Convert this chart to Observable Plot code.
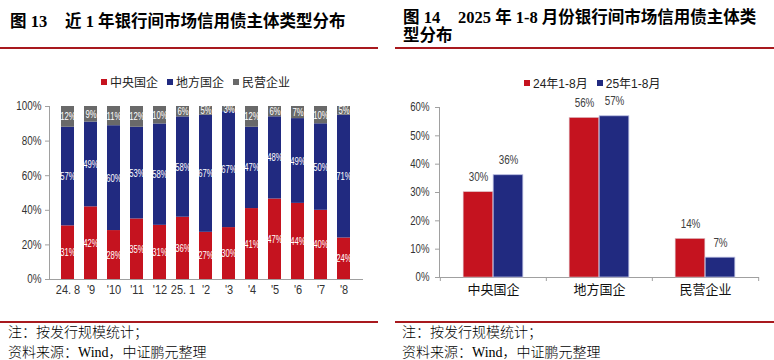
<!DOCTYPE html>
<html>
<head>
<meta charset="utf-8">
<script src="https://cdn.jsdelivr.net/npm/d3@7"></script>
<script src="https://cdn.jsdelivr.net/npm/@observablehq/plot@0.6"></script>
<style>
  html, body { margin: 0; padding: 0; background: #fff; }
  #page { position: relative; width: 774px; height: 360px; overflow: hidden; background: #fff; }
  .abs { position: absolute; white-space: nowrap; }
  .title { font-family: "Liberation Serif", "Noto Sans CJK SC", serif; font-weight: bold; font-size: 16.5px; color: #000; line-height: 18px; }
  .rule { position: absolute; height: 1.5px; background: #A8191E; }
  .foot { font-family: "Liberation Serif", "Noto Sans CJK SC", serif; font-size: 14px; font-weight: 300; color: #000; line-height: 19px; }
  .legend { font-family: "Liberation Sans", "Noto Sans CJK SC", sans-serif; font-size: 12px; color: #222; display: flex; align-items: center; }
  .legend .sw { width: 6px; height: 6px; display: inline-block; margin-right: 3px; }
  .legend .it { display: flex; align-items: center; margin-right: 9px; }
  svg g[aria-label$="tick label"] { fill: #333; }
</style>
</head>
<body>
<div id="page">
  <!-- left panel -->
  <div class="abs title" style="left:10px; top:13px;">图 13</div>
  <div class="abs title" style="left:65px; top:13px;">近 1 年银行间市场信用债主体类型分布</div>
  <div class="rule" style="left:0px; top:47px; width:378px;"></div>
  <div class="abs legend" id="legL" style="left:101px; top:73px;"></div>
  <div class="abs" id="chartL" style="left:0px; top:90px;"></div>
  <div class="rule" style="left:0px; top:321px; width:378px;"></div>
  <div class="abs foot" style="left:8px; top:323px;">注：按发行规模统计；</div>
  <div class="abs foot" style="left:8px; top:343px;">资料来源：Wind，中证鹏元整理</div>

  <!-- right panel -->
  <div class="abs title" style="left:403px; top:9px;">图 14</div>
  <div class="abs title" style="left:458px; top:9px;">2025 年 1-8 月份银行间市场信用债主体类</div>
  <div class="abs title" style="left:403px; top:27px;">型分布</div>
  <div class="rule" style="left:395px; top:47px; width:379px;"></div>
  <div class="abs legend" id="legR" style="left:524px; top:74px;"></div>
  <div class="abs" id="chartR" style="left:390px; top:90px;"></div>
  <div class="rule" style="left:395px; top:321px; width:379px;"></div>
  <div class="abs foot" style="left:402px; top:323px;">注：按发行规模统计；</div>
  <div class="abs foot" style="left:402px; top:343px;">资料来源：Wind，中证鹏元整理</div>
</div>
<script>
// ---------- data: left chart (share of issuance by issuer type, %) ----------
const months = ["24. 8", "'9", "'10", "'11", "'12", "25. 1", "'2", "'3", "'4", "'5", "'6", "'7", "'8"];
const types = ["中央国企", "地方国企", "民营企业"];
const centralSOE = [31, 42, 28, 35, 31, 36, 27, 30, 41, 47, 44, 40, 24];
const localSOE = [57, 49, 60, 53, 58, 58, 67, 67, 47, 48, 49, 50, 71];
const privateCo = [12, 9, 11, 12, 10, 6, 5, 3, 12, 6, 7, 10, 5];
const leftTicks = [0, 0.2, 0.4, 0.6, 0.8, 1];

// ---------- data: right chart (Jan-Aug share, %) ----------
const cats = ["中央国企", "地方国企", "民营企业"];
const periods = ["24年1-8月", "25年1-8月"];
const share24 = [30.1, 56.3, 13.6];
const share25 = [36.1, 56.9, 7.0];
const rightTicks = [0, 10, 20, 30, 40, 50, 60];

const colors = ["#C5131F", "#212A80", "#696969"];
const numFont = '"Liberation Sans", "Noto Sans CJK SC", sans-serif';

// ---------- legends ----------
function legend(el, names, cols) {
  const node = document.getElementById(el);
  names.forEach((n, i) => {
    const it = document.createElement("span");
    it.className = "it";
    it.innerHTML = `<span class="sw" style="background:${cols[i]}"></span><span>${n}</span>`;
    node.appendChild(it);
  });
}
legend("legL", types, colors);
legend("legR", periods, colors.slice(0, 2));

// narrow the numeric labels (the reference uses a condensed face)
function squeeze(svg, selector, factor) {
  svg.querySelectorAll(selector).forEach(t => {
    const w = t.getComputedTextLength();
    if (w > 0) {
      t.setAttribute("textLength", (w * factor).toFixed(2));
      t.setAttribute("lengthAdjust", "spacingAndGlyphs");
    }
  });
}

// ---------- left chart ----------
const seriesL = [centralSOE, localSOE, privateCo];
const rowsL = [];
months.forEach((m, i) => types.forEach((t, j) => rowsL.push({month: m, type: t, value: seriesL[j][i]})));

const chartL = Plot.plot({
  width: 380,
  height: 215,
  marginLeft: 49,
  marginRight: 18,
  marginTop: 16,
  marginBottom: 26,
  style: {fontFamily: numFont, fontSize: "12px", color: "#a0a0a0", background: "transparent"},
  x: {domain: months, paddingInner: 0.417, paddingOuter: 0.25, label: null, tickSize: 0, tickPadding: 6, line: true},
  y: {domain: [0, 1], ticks: leftTicks, tickFormat: d => Math.round(d * 100) + "%", label: null, tickSize: 4, tickPadding: 4, line: true},
  color: {domain: types, range: colors},
  marks: [
    Plot.barY(rowsL, Plot.stackY({x: "month", y: "value", fill: "type", offset: "normalize"})),
    Plot.text(rowsL, Plot.stackY({x: "month", y: "value", z: "type", offset: "normalize", text: d => d.value + "%", fill: "white", fontSize: 11}))
  ]
});
document.getElementById("chartL").appendChild(chartL);
chartL.querySelectorAll('g[aria-label="x-axis tick label"] text').forEach(t => t.setAttribute("font-size", "12.5"));
squeeze(chartL, 'g[aria-label="text"] text', 0.7);
squeeze(chartL, 'g[aria-label="y-axis tick label"] text', 0.82);
squeeze(chartL, 'g[aria-label="x-axis tick label"] text', 0.88);

// ---------- right chart ----------
const rows24 = cats.map((c, i) => ({cat: c, value: share24[i]}));
const rows25 = cats.map((c, i) => ({cat: c, value: share25[i]}));
const halfStep = (384 - 49 - 16) / cats.length / 2;

const chartR = Plot.plot({
  width: 384,
  height: 215,
  marginLeft: 49,
  marginRight: 16,
  marginTop: 17,
  marginBottom: 28,
  style: {fontFamily: numFont, fontSize: "12px", color: "#a0a0a0", background: "transparent"},
  x: {domain: cats, padding: 0, label: null, tickSize: 0, tickPadding: 7, line: true},
  y: {domain: [0, 60], ticks: rightTicks, tickFormat: d => d + "%", label: null, tickSize: 4, tickPadding: 6, line: true},
  marks: [
    Plot.barY(rows24, {x: "cat", y: "value", fill: colors[0], insetLeft: halfStep - 30, insetRight: halfStep, stroke: "#d9b9c0", strokeWidth: 0.6}),
    Plot.barY(rows25, {x: "cat", y: "value", fill: colors[1], insetLeft: halfStep, insetRight: halfStep - 30, stroke: "#b9bce0", strokeWidth: 0.8}),
    Plot.text(rows24, {x: "cat", y: "value", text: d => Math.round(d.value) + "%", dx: -15, dy: -15, fill: "#404040", fontSize: 12}),
    Plot.text(rows25, {x: "cat", y: "value", text: d => Math.round(d.value) + "%", dx: 15, dy: -15, fill: "#404040", fontSize: 12}),
    Plot.ruleX(cats, {x: d => d, y1: 0, y2: 0, dx: -halfStep, insetBottom: -4, stroke: "#a0a0a0"}),
    Plot.ruleX(cats.slice(-1), {x: d => d, y1: 0, y2: 0, dx: halfStep, insetBottom: -4, stroke: "#a0a0a0"})
  ]
});
document.getElementById("chartR").appendChild(chartR);
chartR.querySelectorAll('g[aria-label="x-axis tick label"] text').forEach(t => t.setAttribute("font-size", "13"));
chartR.querySelectorAll('g[aria-label="x-axis tick label"]').forEach(g => g.setAttribute("style", "fill:#111"));
squeeze(chartR, 'g[aria-label="text"] text', 0.82);
squeeze(chartR, 'g[aria-label="y-axis tick label"] text', 0.8);
</script>
</body>
</html>
